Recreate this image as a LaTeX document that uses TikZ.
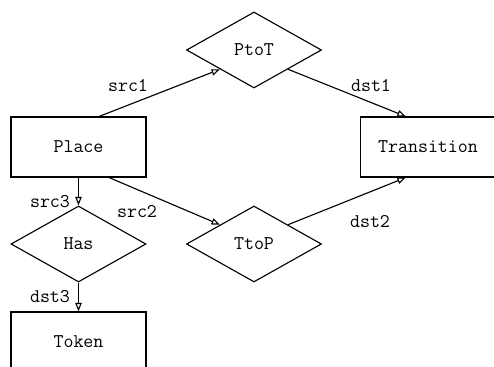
\documentclass[tikz,border=0pt]{standalone}
\usetikzlibrary{shapes.geometric}
\usetikzlibrary{arrows.meta}
\tikzset{
    entity/.style={
        rectangle,     % 实体：矩形
        draw,
        line width=0.8pt,
        minimum width=3.375cm,
        minimum height=1.5cm,
        font=\ttfamily\fontsize{13.8}{16}\selectfont
    },
    relation/.style={
        diamond,       % 关系：菱形
        draw,
        line width=0.8pt,
        inner sep=0pt,
        minimum width=3.375cm,
        minimum height=1.9cm,
        font=\ttfamily\fontsize{13.8}{16}\selectfont
    },
    rel/.style={
        line width=0.8pt,
        -{Triangle[open,length=6pt,width=4.5pt]}
    },
    role/.style={
        font=\ttfamily\fontsize{13.8}{16}\selectfont
    }
}

\begin{document}
\begin{tikzpicture}[x=0.025cm, y=-0.025cm]

\useasboundingbox (0,0) rectangle (494,367);

% 定义点
\coordinate (P1) at (78.5, 147);
\coordinate (P2) at (428, 147);
\coordinate (P3) at (254, 50);
\coordinate (P4) at (254, 244);
\coordinate (P5) at (78.5, 244);
\coordinate (P6) at (78.5, 342);

\node[entity] (place) at (P1) {Place};
\node[entity] (transition) at (P2) {Transition};
\node[relation] (ptot) at (P3) {PtoT};
\node[relation] (ttop) at (P4) {TtoP};
\node[relation] (has) at (P5) {Has};
\node[entity] (token) at (P6) {Token};

\draw[rel] (place.56) -- (ptot.south west);
\draw[rel] (ptot.south east) -- (transition.126);
\draw[rel] (place.-45) -- (ttop.north west);
\draw[rel] (ttop.north east) -- (transition.-126);
\draw[rel] (place.south) -- (has.north);
\draw[rel] (has.south) -- (token.north);

% 角色名
\node[role] (l1) at (128, 86) {src1};
\node[role] (l2) at (371, 86) {dst1};
\node[role] (l3) at (50, 202) {src3};
\node[role] (l4) at (137, 212) {src2};
\node[role] (l5) at (370, 222) {dst2};
\node[role] (l6) at (50, 297) {dst3};

\end{tikzpicture}
\end{document}
